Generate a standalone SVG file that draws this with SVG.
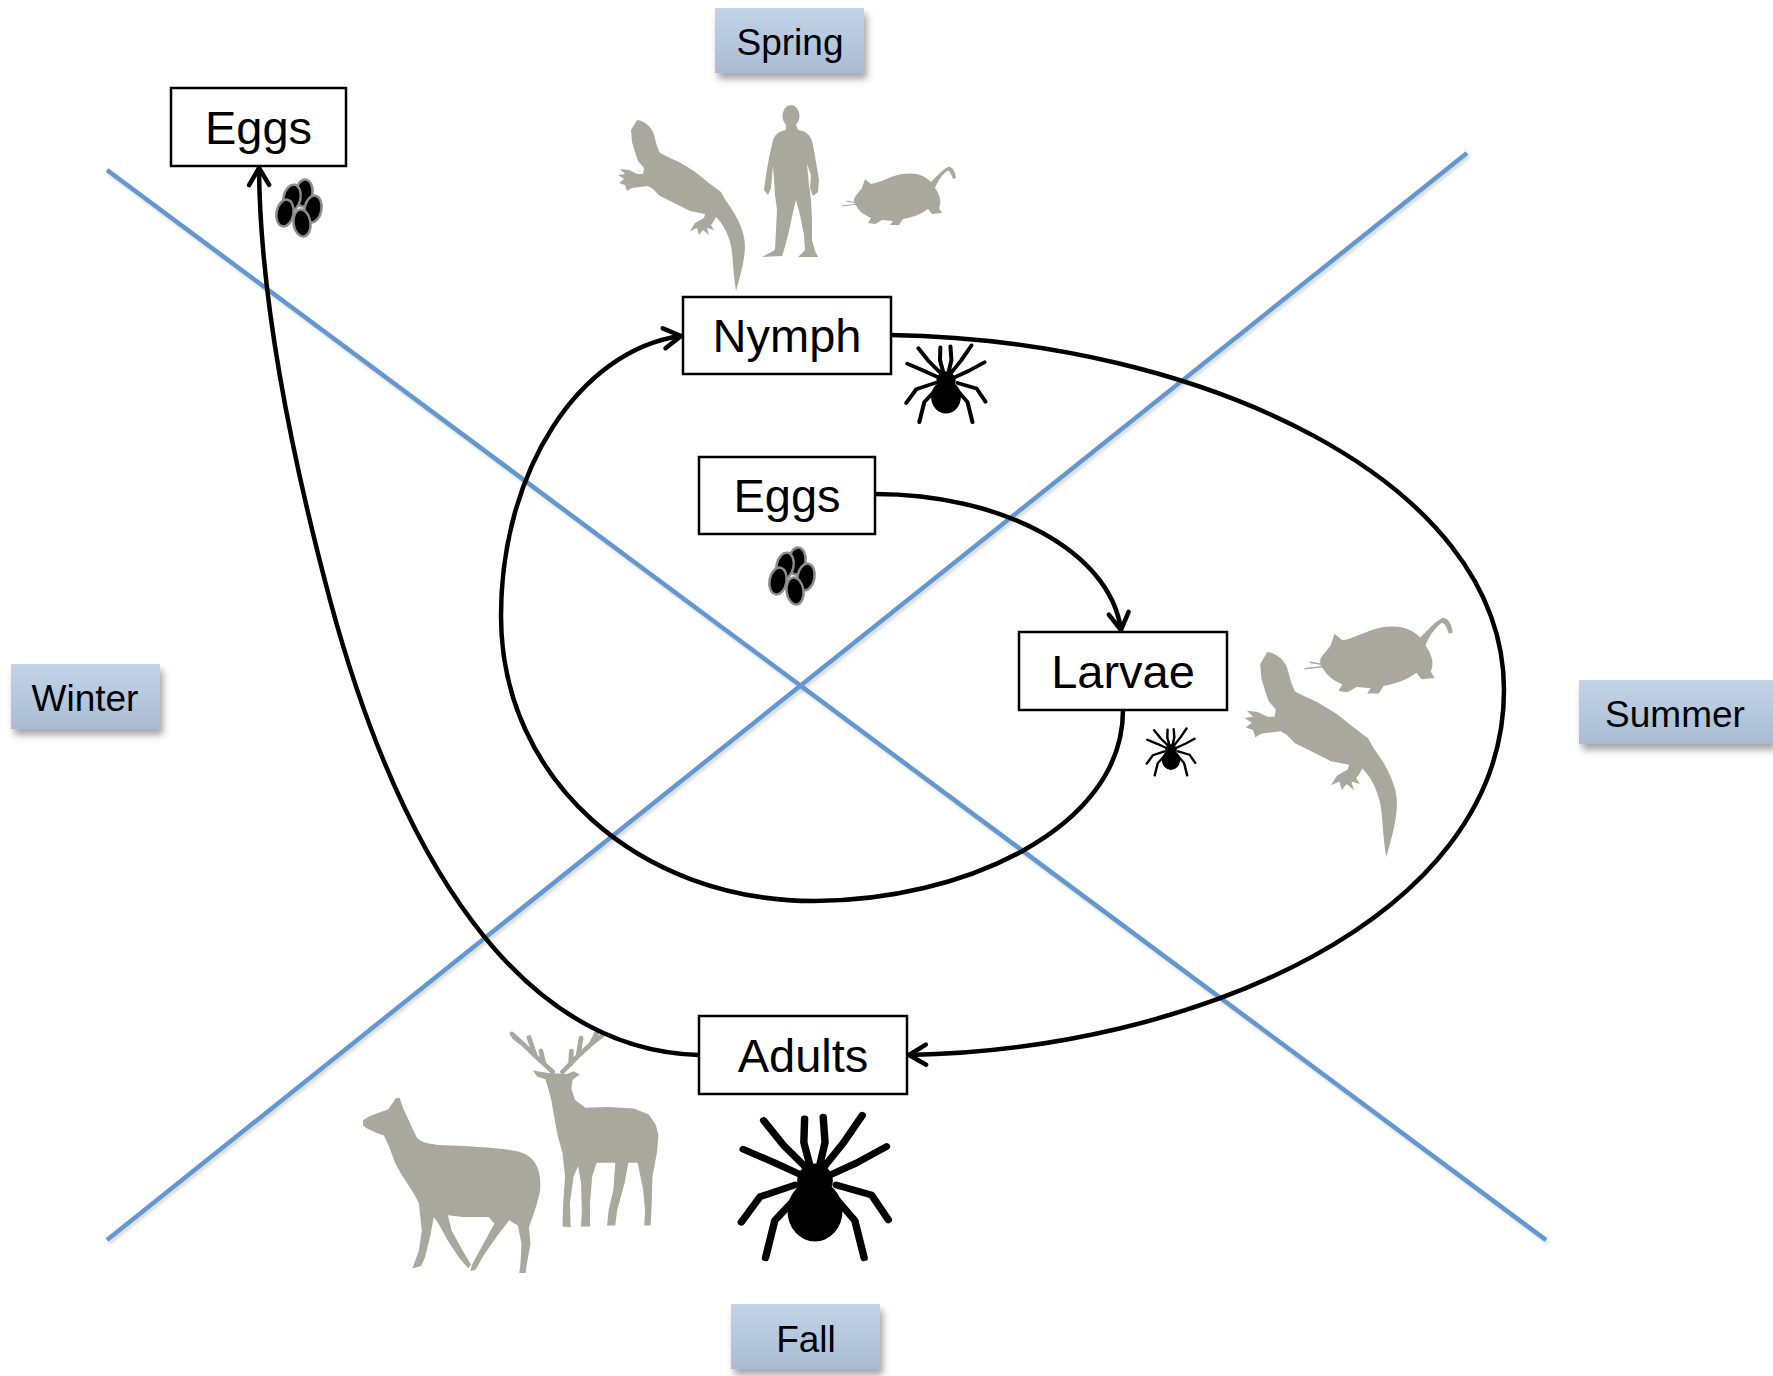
<svg xmlns="http://www.w3.org/2000/svg" xmlns:xlink="http://www.w3.org/1999/xlink" width="1773" height="1376" viewBox="0 0 1773 1376">
  <defs>
    <style>
      .node rect { fill: #ffffff; stroke: #000000; stroke-width: 2.5; }
      .node text { font-family: "Liberation Sans", Arial, sans-serif; font-size: 47px; text-anchor: middle; fill: #000; }
      .season rect { fill: url(#seasonFill); filter: url(#boxShadow); }
      .season text { font-family: "Liberation Sans", Arial, sans-serif; font-size: 37px; text-anchor: middle; fill: #000; }
      .conn { fill: none; stroke: #000; stroke-width: 4.5; stroke-linecap: round; marker-end: url(#arrow); }
      .axis { stroke: #6397cf; stroke-width: 4.5; }
      .axis-shadow { stroke: #000; stroke-opacity: 0.15; stroke-width: 4; filter: url(#soft); }
      .sil { fill: #a9a89c; }
      .egg { fill: #000; stroke: #8c8c8c; stroke-width: 2.5; }
    </style>
    <linearGradient id="seasonFill" x1="0" y1="0" x2="0" y2="1">
      <stop offset="0" stop-color="#c3d4e8"/>
      <stop offset="1" stop-color="#a9bcd3"/>
    </linearGradient>
    <filter id="boxShadow" x="-20%" y="-30%" width="140%" height="170%">
      <feDropShadow dx="3" dy="6" stdDeviation="3.5" flood-color="#000" flood-opacity="0.35"/>
    </filter>
    <filter id="soft" x="-5%" y="-5%" width="110%" height="110%">
      <feGaussianBlur stdDeviation="1.5"/>
    </filter>
    <marker id="arrow" viewBox="-22 -14 26 28" refX="0" refY="0" markerWidth="26" markerHeight="28" markerUnits="userSpaceOnUse" orient="auto">
      <path d="M-17,-10 L0,0 L-17,10" fill="none" stroke="#000" stroke-width="4.5" stroke-linecap="round" stroke-linejoin="round"/>
    </marker>

    <!-- egg cluster, centred on its origin -->
    <g id="eggs">
      <ellipse class="egg" cx="5" cy="-16" rx="8.5" ry="13.5" transform="rotate(8 5 -16)"/>
      <ellipse class="egg" cx="-7" cy="-11" rx="8.5" ry="13.5" transform="rotate(12 -7 -11)"/>
      <ellipse class="egg" cx="14" cy="0" rx="8.5" ry="13.5" transform="rotate(10 14 0)"/>
      <ellipse class="egg" cx="-14" cy="4" rx="8.5" ry="13.5" transform="rotate(10 -14 4)"/>
      <ellipse class="egg" cx="3" cy="14" rx="8.5" ry="13.5" transform="rotate(-8 3 14)"/>
    </g>

    <!-- tick silhouette, body centred on its origin -->
    <g id="tick">
      <g transform="scale(0.372,0.339)">
        <path fill="none" stroke="#000" stroke-width="20" stroke-linecap="round" stroke-linejoin="round"
          d="M-23,-127 L-83,-192 L-138,-267
             M22,-127 L77,-202 L127,-282
             M-13,-132 L-30,-202 L-28,-272
             M12,-132 L27,-202 L22,-277
             M-38,-107 L-108,-142 L-193,-182
             M42,-107 L112,-142 L192,-190
             M-53,-77 L-148,-42 L-198,33
             M57,-77 L152,-47 L197,26
             M-48,-42 L-108,28 L-133,138
             M52,-42 L107,28 L132,138"/>
        <ellipse cx="0" cy="0" rx="74" ry="90" fill="#000"/>
        <ellipse cx="0" cy="-90" rx="48" ry="50" fill="#000"/>
      </g>
    </g>

    <!-- lizard silhouette -->
    <path id="lizard" class="sil" d="M27,20 C35,21 42,27 44,35 L47,46 L50,53 C56,56 62,59 69,62 L84,71 L99,83 L111,92 L116,101
      C123,110 131,123 134,137 C137,152 132,170 126,191 C123,172 123,156 121,146 C118,133 113,124 106,117
      L104,121 L101,125 L104,130 L97,128 L99,135 L93,130 L89,135 L87,128 L80,131 L85,123 L94,118 L95,114
      L80,111 L64,103 L50,96 L43,89 L38,86 L30,87 L22,88 L17,91 L15,85 L9,83 L14,79 L8,75 L15,74 L10,69 L19,70
      L27,74 L33,74 L34,68 L28,61 L25,52 L22,42 L21,30 Z"/>

    <!-- rat silhouette -->
    <g id="rat">
      <path class="sil" d="M245,97 L252,88 L255,79 L261,84 C270,83 280,76 292,74 C305,72 315,75 321,82
        C327,76 332,70 338,67 C341,66 345,70 346,78 L343,79 C341,73 339,70 337,71 C332,75 327,82 325,88
        C330,95 332,102 329,108 L332,113 L322,114 L318,109 C310,115 300,118 293,119 L289,125 L280,125 L283,121
        L272,120 L265,124 L258,123 L261,118 C254,115 249,111 247,107 C244,104 243,100 245,97 Z"/>
      <path d="M248,104 L232,106 M248,103 L236,101" stroke="#a9a89c" stroke-width="1.2" fill="none"/>
    </g>
  </defs>

  <rect x="0" y="0" width="1773" height="1376" fill="#ffffff"/>

  <!-- season quadrant dividers -->
  <g id="axes">
    <line class="axis-shadow" x1="109" y1="173" x2="1548" y2="1243"/>
    <line class="axis-shadow" x1="109" y1="1243" x2="1469" y2="156"/>
    <line class="axis" x1="107" y1="170" x2="1546" y2="1240"/>
    <line class="axis" x1="107" y1="1240" x2="1467" y2="153"/>
  </g>

  <!-- season labels -->
  <g id="spring" class="season">
    <rect x="715" y="8" width="149" height="65"/>
    <text x="790" y="55">Spring</text>
  </g>
  <g id="winter" class="season">
    <rect x="11" y="664" width="149" height="65"/>
    <text x="85" y="711">Winter</text>
  </g>
  <g id="summer" class="season">
    <rect x="1579" y="680" width="194" height="64"/>
    <text x="1675" y="727">Summer</text>
  </g>
  <g id="fall" class="season">
    <rect x="731" y="1304" width="149" height="65"/>
    <text x="806" y="1352">Fall</text>
  </g>

  <!-- hosts: spring -->
  <g id="hosts-spring">
    <use xlink:href="#lizard" transform="translate(610,100)"/>
    <g transform="translate(610,100)">
      <ellipse class="sil" cx="181" cy="16" rx="8.5" ry="11"/>
      <path class="sil" d="M176,25 L186,25 L188,30 C196,31 201,35 203,45 L206,62 L209,80 L208,92 L203,96 L200,88 L201,75 L197,64
        L199,85 L201,100 L202,120 L202,140 L205,151 L208,157 L188,157 L195,150 L194,135 L190,115 L186,100
        L183,112 L179,131 L174,150 L172,156 L152,157 L165,150 L166,130 L167,110 L165,95 L164,80
        L163,66 L162,76 L161,88 L158,95 L154,90 L156,75 L159,58 L163,40 C165,34 170,31 176,30 Z"/>
    </g>
    <use xlink:href="#rat" transform="translate(610,100)"/>
  </g>

  <!-- hosts: summer -->
  <g id="hosts-summer">
    <use xlink:href="#rat" transform="translate(1003,531) scale(1.3)"/>
    <use xlink:href="#lizard" transform="translate(1235,628) scale(1.2)"/>
  </g>

  <!-- hosts: fall -->
  <g id="hosts-fall" transform="translate(340,1000) scale(0.372,0.339)">
    <path class="sil" d="M62,355 C80,338 110,332 130,322 L150,290 L160,288 L170,320 C182,350 196,380 206,405
      C216,420 240,425 270,428 C350,432 440,436 482,448 C525,462 542,500 538,560 C532,600 518,640 508,670
      L512,720 L502,780 L499,805 L482,805 L485,780 L488,720 L478,665 L455,650 L420,700 L385,755 L365,795
      L350,800 L355,780 L380,730 L415,660 L400,640 L330,640 L290,635 L300,680 L330,740 L352,780 L345,792
      L320,760 L290,710 L265,660 L252,640 L242,700 L228,760 L218,785 L195,792 L200,775 L212,740 L220,680
      L212,600 C196,560 165,520 148,480 C138,450 128,420 118,400 C98,392 74,382 62,370 Z"/>
    <path class="sil" d="M560,215 L518,208 L530,226 L552,234 L560,262 L568,296 L575,340 L585,400 L598,450
      L605,520 L600,600 L598,668 L620,670 L618,600 L628,520 L640,490 L648,540 L650,620 L648,668 L672,668
      L672,600 L678,520 L690,480 L740,480 L735,560 L722,620 L718,665 L740,665 L745,620 L765,540 L775,480
      L800,480 L815,560 L820,620 L818,665 L835,665 L838,600 L840,520 L852,450 L856,400 L849,368 L830,338
      L790,320 L720,316 L660,318 L632,295 L622,262 L625,236 L644,220 L628,210 L610,218 Z"/>
    <path fill="none" stroke="#a9a89c" stroke-width="13" stroke-linecap="round" stroke-linejoin="round"
      d="M572,212 L525,165 L492,130 L462,100
         M525,165 L508,110
         M492,130 L468,110
         M548,188 L540,150
         M598,212 L640,165 L675,130 L708,102
         M640,165 L648,112
         M675,130 L690,98
         M620,190 L622,150"/>
  </g>

  <!-- connectors -->
  <g id="connectors">
    <path class="conn" d="M875,494 C1000,494 1110,550 1121,630"/>
    <path class="conn" d="M1123,710 C1123,830 960,901 814,901 C640,901 501,780 501,616 C501,470 580,350 681,336"/>
    <path class="conn" d="M891,335 C1200,340 1504,480 1504,690 C1504,920 1190,1050 909,1055"/>
    <path class="conn" d="M699,1055 C520,1050 400,860 330,600 C290,450 260,300 259,168"/>
  </g>

  <!-- life stages -->
  <g id="eggs-winter" class="node">
    <rect x="171" y="88" width="175" height="78"/>
    <text x="258.5" y="144">Eggs</text>
    <use xlink:href="#eggs" transform="translate(299,209)"/>
  </g>
  <g id="nymph" class="node">
    <rect x="683" y="297" width="208" height="77"/>
    <text x="787" y="352">Nymph</text>
    <use xlink:href="#tick" transform="translate(946,397) scale(0.54)"/>
  </g>
  <g id="eggs-spring" class="node">
    <rect x="699" y="457" width="176" height="77"/>
    <text x="787" y="512">Eggs</text>
    <use xlink:href="#eggs" transform="translate(792,577)"/>
  </g>
  <g id="larvae" class="node">
    <rect x="1019" y="632" width="208" height="78"/>
    <text x="1123" y="688">Larvae</text>
    <use xlink:href="#tick" transform="translate(1171,760) scale(0.33)"/>
  </g>
  <g id="adults" class="node">
    <rect x="699" y="1016" width="208" height="78"/>
    <text x="803" y="1072">Adults</text>
    <use xlink:href="#tick" transform="translate(815,1211)"/>
  </g>
</svg>
